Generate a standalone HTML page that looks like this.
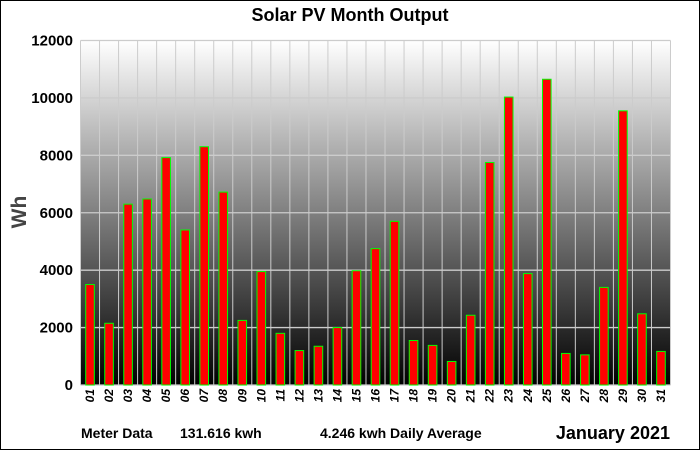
<!DOCTYPE html>
<html><head><meta charset="utf-8"><style>
html,body{margin:0;padding:0;background:#fff}
svg{display:block;font-family:"Liberation Sans",sans-serif}
</style></head><body>
<svg width="700" height="450" viewBox="0 0 700 450">
<defs><linearGradient id="bg" x1="0" y1="0" x2="0" y2="1"><stop offset="0" stop-color="#ffffff"/><stop offset="1" stop-color="#000000"/></linearGradient></defs>
<rect x="0.5" y="0.5" width="699" height="449" fill="#fff" stroke="#000"/>
<text x="350" y="21" text-anchor="middle" font-size="18" font-weight="bold">Solar PV Month Output</text>
<rect x="80.5" y="40.5" width="590" height="344.5" fill="url(#bg)"/>
<g id="grid"></g><g id="bars"></g><g id="ylab"></g><g id="xlab"></g>
<text transform="translate(26,212) rotate(-90)" text-anchor="middle" font-size="21" font-weight="bold" fill="#444">Wh</text>
<text x="81" y="438" font-size="14" font-weight="bold">Meter Data</text>
<text x="180" y="438" font-size="14" font-weight="bold">131.616 kwh</text>
<text x="320" y="438" font-size="14" font-weight="bold">4.246 kwh Daily Average</text>
<text x="670" y="439" text-anchor="end" font-size="18" font-weight="bold">January 2021</text>
</svg>
<script>
const days=["01","02","03","04","05","06","07","08","09","10","11","12","13","14","15","16","17","18","19","20","21","22","23","24","25","26","27","28","29","30","31"];
const values=[3500,2150,6300,6480,7920,5400,8300,6720,2250,3950,1800,1200,1350,2000,3980,4750,5700,1550,1380,820,2430,7750,10030,3880,10650,1100,1050,3400,9550,2480,1170];
const yTicks=[0,2000,4000,6000,8000,10000,12000];
const NS="http://www.w3.org/2000/svg";
const X0=80.5,X1=670.5,Y0=385,Y1=40.5,YMAX=12000;
const cw=(X1-X0)/days.length;
const y=v=>Y0-(v/YMAX)*(Y0-Y1);
const xc=i=>X0+cw*(i+0.5);
function mk(t,a,p){const e=document.createElementNS(NS,t);for(const k in a)e.setAttribute(k,a[k]);p.appendChild(e);return e;}
const g=document.getElementById('grid'),b=document.getElementById('bars'),yl=document.getElementById('ylab'),xl=document.getElementById('xlab');
yTicks.forEach(v=>{
 const l=mk('line',{x1:X0,x2:X1,y1:y(v),y2:y(v),stroke:'#ccc','stroke-width':1.3},g);
 
 
 const t=mk('text',{x:73,y:y(v)+5,'text-anchor':'end','font-size':15,'font-weight':'bold'},yl);
 t.textContent=v;
 
 
});
for(let i=0;i<=days.length;i++){
 const l=mk('line',{x1:X0+cw*i,x2:X0+cw*i,y1:Y1,y2:Y0,stroke:'#ccc','stroke-width':1},g);
 
 
}
days.forEach((d,i)=>{
 const r=mk('rect',{x:xc(i)-4.3,y:y(values[i]),width:8.6,height:Y0-y(values[i]),fill:'#ff0000',stroke:'#00ff00','stroke-width':1},b);
 
 
 const t=mk('text',{transform:`translate(${xc(i)+4},${389}) rotate(-90)`,'text-anchor':'end','font-size':12,'font-weight':'bold','font-style':'italic'},xl);
 t.textContent=d;
 
 
});
</script>
</body></html>
